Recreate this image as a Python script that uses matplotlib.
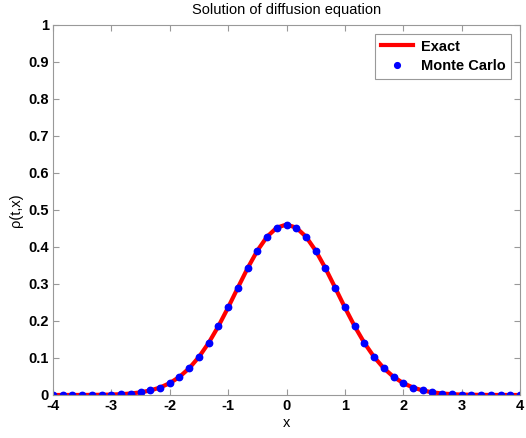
import matplotlib
matplotlib.use('Agg')
import matplotlib.pyplot as plt
import numpy as np

plt.rcParams['font.family'] = ['Liberation Sans', 'DejaVu Sans']
plt.rcParams['axes.unicode_minus'] = False

# x grid of the Monte Carlo estimate (step 1/6)
x = np.arange(-24, 25) / 6.0

# right half of the density, x = 0, 1/6, ..., 4
half = [0.4607, 0.4522, 0.4278, 0.3900, 0.3426, 0.2900, 0.2365, 0.1859,
        0.1408, 0.1028, 0.0723, 0.0490, 0.0320, 0.0202, 0.0122, 0.0071,
        0.0040, 0.0022, 0.0011, 0.0006, 0.0003, 0.0001, 0.0001, 0.0000,
        0.0000]
exact = half[:0:-1] + half
monte_carlo = [0.0000, 0.0000, 0.0001, 0.0001, 0.0003, 0.0006, 0.0011, 0.0022,
               0.0040, 0.0071, 0.0122, 0.0202, 0.0320, 0.0490, 0.0723, 0.1028,
               0.1408, 0.1859, 0.2365, 0.2900, 0.3426, 0.3900, 0.4278, 0.4522,
               0.4607, 0.4522, 0.4278, 0.3900, 0.3426, 0.2900, 0.2365, 0.1859,
               0.1408, 0.1028, 0.0723, 0.0490, 0.0320, 0.0202, 0.0122, 0.0071,
               0.0040, 0.0022, 0.0011, 0.0006, 0.0003, 0.0001, 0.0001, 0.0000,
               0.0000]

xticks = [-4, -3, -2, -1, 0, 1, 2, 3, 4]
yticks = [0, 0.1, 0.2, 0.3, 0.4, 0.5, 0.6, 0.7, 0.8, 0.9, 1]
ytick_labels = ['0', '0.1', '0.2', '0.3', '0.4', '0.5', '0.6', '0.7', '0.8', '0.9', '1']

fig = plt.figure(figsize=(5.26, 4.38), dpi=100)
ax = fig.add_axes([0.1008, 0.0982, 0.8878, 0.8448])

ax.plot(x, exact, color='red', linewidth=3, label='Exact')
ax.plot(x, monte_carlo, linestyle='none', marker='o', markersize=4.6,
        color='blue', label='Monte Carlo')

ax.set_xlim(-4, 4)
ax.set_ylim(0, 1)
ax.set_xticks(xticks)
ax.set_xticklabels([str(t) for t in xticks])
ax.set_yticks(yticks)
ax.set_yticklabels(ytick_labels)

gray = '#999999'
for s in ax.spines.values():
    s.set_color(gray)
ax.tick_params(direction='in', top=True, right=True, length=4, color=gray,
               labelsize=10.5, pad=3)
for lab in ax.get_xticklabels() + ax.get_yticklabels():
    lab.set_fontweight('bold')

ax.set_title('Solution of diffusion equation', fontsize=10.5, pad=8)
ax.set_xlabel('x', fontsize=10.5, labelpad=2)
ax.set_ylabel('\u03c1(t,x)', fontsize=10.5, labelpad=4)

leg = ax.legend(loc='upper right', fancybox=False, framealpha=1,
                edgecolor=gray, prop={'weight': 'bold', 'size': 10.5},
                handlelength=2.2, handletextpad=0.5, borderaxespad=0.6,
                markerscale=0.9, labelspacing=0.4)
leg.get_frame().set_linewidth(0.8)

fig.savefig('out.png', dpi=100)
